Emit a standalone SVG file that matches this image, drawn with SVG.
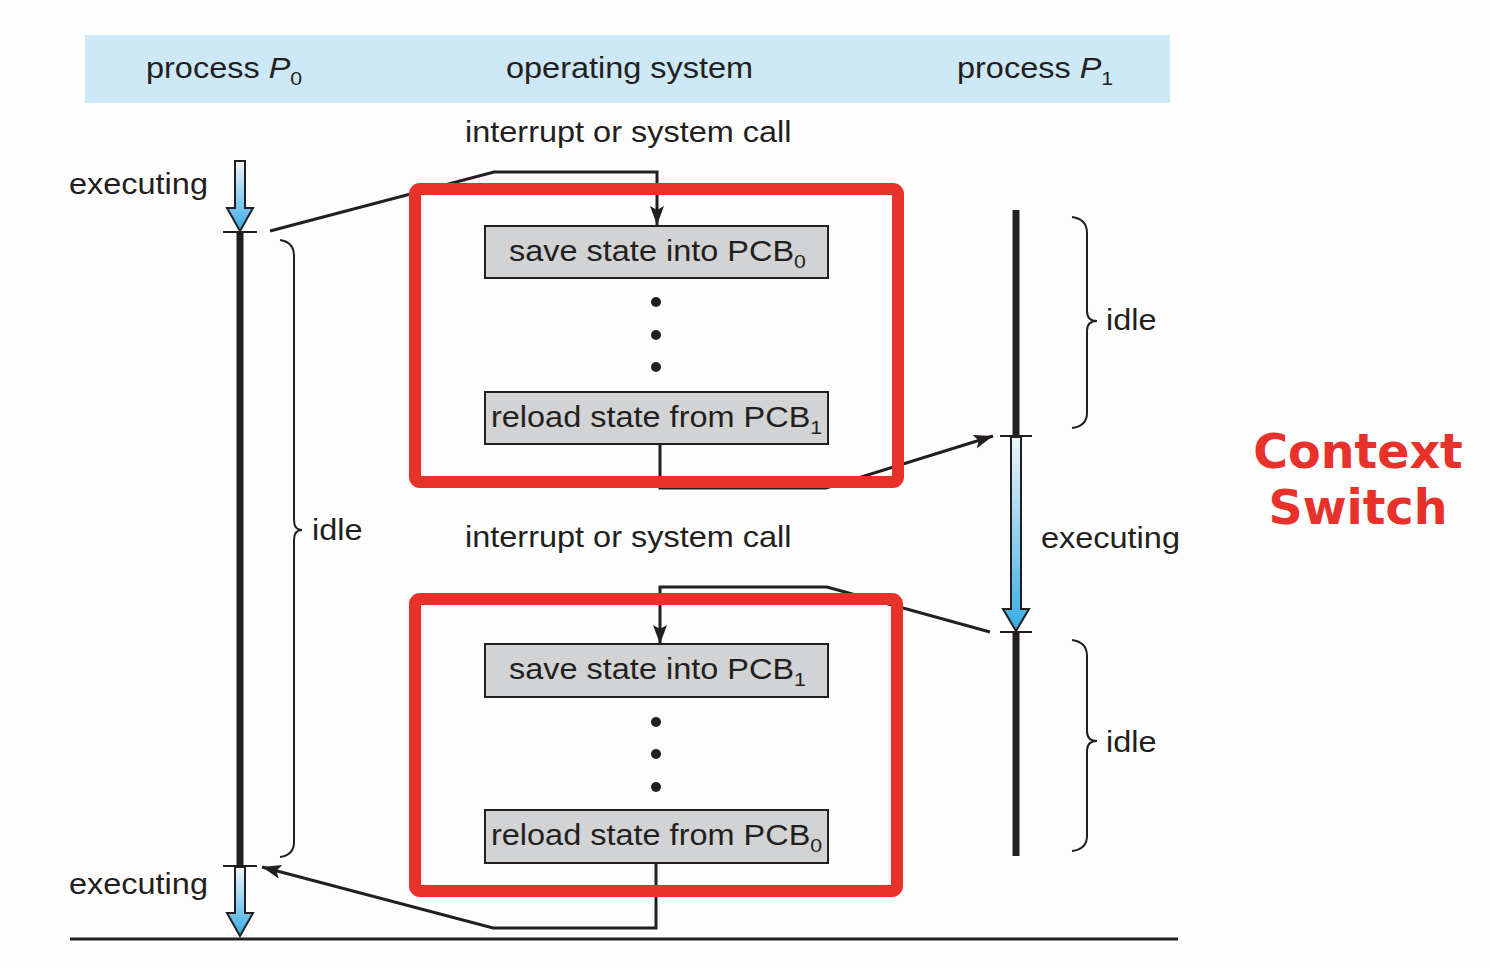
<svg xmlns="http://www.w3.org/2000/svg" width="1490" height="968" viewBox="0 0 1490 968">
<defs>
<style>
.t{font-family:"Liberation Sans",Arial,Helvetica,sans-serif;font-size:29px;fill:#231f20}
.sub{font-size:19px}
.box{fill:#d1d3d4;stroke:#231f20;stroke-width:2}
.con{fill:none;stroke:#231f20;stroke-width:3;stroke-linejoin:miter}
.tl{stroke:#231f20;stroke-width:7}
.tick{stroke:#231f20;stroke-width:2}
.br{fill:none;stroke:#231f20;stroke-width:2}
.barrow{fill:url(#blue);stroke:#231f20;stroke-width:2;stroke-linejoin:miter}
.red{fill:none;stroke:#e8312a;stroke-width:12}
.dot{fill:#231f20}
.cs{font-family:"DejaVu Sans",Verdana,sans-serif;font-weight:bold;font-size:47.5px;fill:#e8312a}
</style>
<linearGradient id="blue" x1="0" y1="0" x2="0" y2="1">
<stop offset="0" stop-color="#eef6fc"/>
<stop offset="1" stop-color="#37ace4"/>
</linearGradient>
<marker id="ah" markerUnits="userSpaceOnUse" markerWidth="20" markerHeight="16" viewBox="0 0 20 16" refX="19" refY="8" orient="auto">
<path d="M0,1 L19,8 L0,15 L4,8 Z" fill="#231f20"/>
</marker>
</defs>
<rect width="1490" height="968" fill="#fdfdfd"/>

<g id="header">
<rect x="85" y="35" width="1085" height="68" fill="#cde8f7"/>
<text class="t" transform="translate(146,78) scale(1.12,1)">process <tspan font-style="italic">P</tspan><tspan class="sub" dy="7">0</tspan></text>
<text class="t" transform="translate(506,78) scale(1.12,1)">operating system</text>
<text class="t" transform="translate(957,78) scale(1.12,1)">process <tspan font-style="italic">P</tspan><tspan class="sub" dy="7">1</tspan></text>
</g>

<g id="labels">
<text class="t" transform="translate(465,142) scale(1.12,1)">interrupt or system call</text>
<text class="t" transform="translate(465,547) scale(1.12,1)">interrupt or system call</text>
<text class="t" transform="translate(69,194) scale(1.12,1)">executing</text>
<text class="t" transform="translate(69,894) scale(1.12,1)">executing</text>
<text class="t" transform="translate(1041,548) scale(1.12,1)">executing</text>
<text class="t" transform="translate(312,540) scale(1.12,1)">idle</text>
<text class="t" transform="translate(1106,330) scale(1.12,1)">idle</text>
<text class="t" transform="translate(1106,752) scale(1.12,1)">idle</text>
</g>

<g id="timeline-p0">
<path class="barrow" d="M235,161 H245 V208 H253 L240,231 L227,208 H235 Z"/>
<line class="tl" x1="240" y1="232" x2="240" y2="866"/>
<line class="tick" x1="223" y1="232" x2="257" y2="232"/>
<line class="tick" x1="223" y1="866" x2="257" y2="866"/>
<path class="barrow" d="M235,867 H245 V913 H253 L240,936 L227,913 H235 Z"/>
<path class="br" d="M280,240 Q294,242 294,256 V520 Q294,530 302,530 Q294,530 294,540 V842 Q294,855 280,857"/>
</g>

<g id="timeline-p1">
<line class="tl" x1="1016" y1="210" x2="1016" y2="436"/>
<path class="barrow" d="M1011,437 H1021 V609 H1029 L1016,631 L1003,609 H1011 Z"/>
<line class="tick" x1="1000" y1="436" x2="1032" y2="436"/>
<line class="tick" x1="1000" y1="632" x2="1032" y2="632"/>
<line class="tl" x1="1016" y1="632" x2="1016" y2="856"/>
<path class="br" d="M1072,217 Q1087,219 1087,233 V311 Q1087,321 1097,321 Q1087,321 1087,331 V413 Q1087,426 1072,428"/>
<path class="br" d="M1072,640 Q1087,642 1087,656 V731 Q1087,741 1097,741 Q1087,741 1087,751 V836 Q1087,849 1072,851"/>
</g>

<g id="connectors">
<path class="con" d="M270,231 L494,172 H657 V225" marker-end="url(#ah)"/>
<path class="con" d="M660,444 V488 H826 L993,436" marker-end="url(#ah)"/>
<path class="con" d="M990,632 L827,587 H660 V644" marker-end="url(#ah)"/>
<path class="con" d="M656,864 V928 H493 L262,867" marker-end="url(#ah)"/>
</g>

<g id="save-pcb0">
<rect class="box" x="485" y="226" width="343" height="52"/>
<text class="t" transform="translate(509,261) scale(1.12,1)">save state into PCB<tspan class="sub" dy="7">0</tspan></text>
</g>
<g id="dots-1">
<circle class="dot" cx="656" cy="302" r="5"/>
<circle class="dot" cx="656" cy="335" r="5"/>
<circle class="dot" cx="656" cy="367" r="5"/>
</g>
<g id="reload-pcb1">
<rect class="box" x="485" y="392" width="343" height="52"/>
<text class="t" transform="translate(491,427) scale(1.12,1)">reload state from PCB<tspan class="sub" dy="7">1</tspan></text>
</g>
<g id="save-pcb1">
<rect class="box" x="485" y="644" width="343" height="53"/>
<text class="t" transform="translate(509,679) scale(1.12,1)">save state into PCB<tspan class="sub" dy="7">1</tspan></text>
</g>
<g id="dots-2">
<circle class="dot" cx="656" cy="722" r="5"/>
<circle class="dot" cx="656" cy="754" r="5"/>
<circle class="dot" cx="656" cy="787" r="5"/>
</g>
<g id="reload-pcb0">
<rect class="box" x="485" y="810" width="343" height="53"/>
<text class="t" transform="translate(491,845) scale(1.12,1)">reload state from PCB<tspan class="sub" dy="7">0</tspan></text>
</g>

<g id="baseline">
<line x1="70" y1="939" x2="1178" y2="939" stroke="#231f20" stroke-width="3"/>
</g>

<g id="highlight-1"><rect class="red" x="415" y="189" width="483" height="293" rx="5"/></g>
<g id="highlight-2"><rect class="red" x="415" y="599" width="482" height="292" rx="5"/></g>

<g id="context-switch">
<text class="cs" x="1358" y="468" text-anchor="middle">Context</text>
<text class="cs" x="1358" y="524" text-anchor="middle">Switch</text>
</g>
</svg>
